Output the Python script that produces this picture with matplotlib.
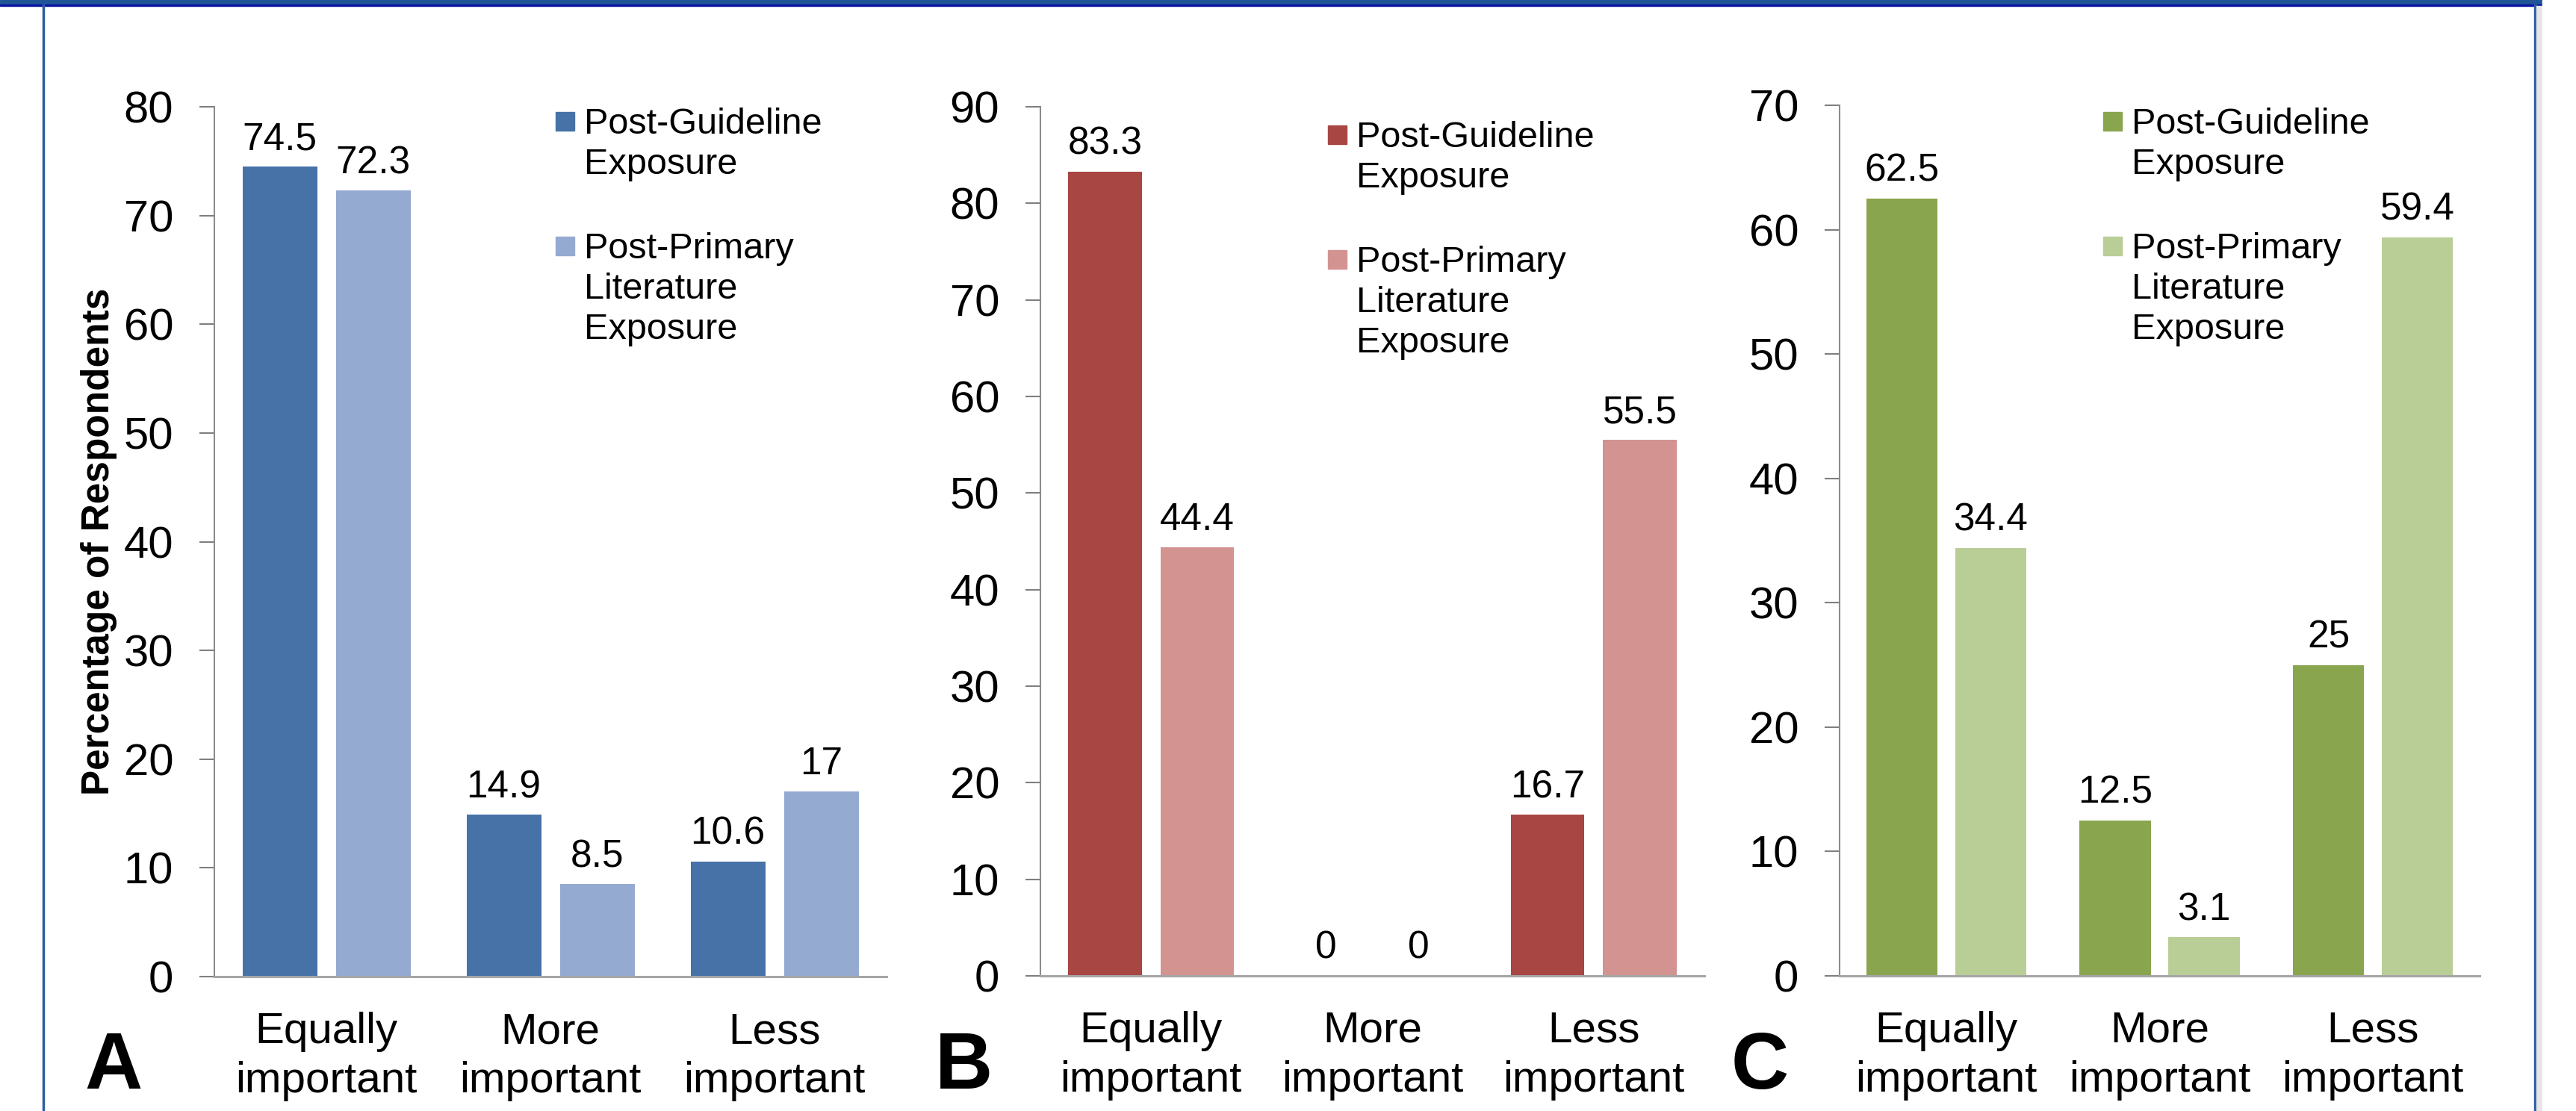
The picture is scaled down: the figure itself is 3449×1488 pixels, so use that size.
import matplotlib
matplotlib.use("Agg")
import matplotlib.pyplot as plt
import numpy as np
from matplotlib.patches import Rectangle

plt.rcParams["font.family"] = ["Liberation Sans", "DejaVu Sans"]

W, H = 3449, 1488  # canvas size in pixels (dpi 100)

categories = ["Equally\nimportant", "More\nimportant", "Less\nimportant"]
series_names = ["Post-Guideline\nExposure", "Post-Primary\nLiterature\nExposure"]

guideline_a = [74.5, 14.9, 10.6]
primary_a = [72.3, 8.5, 17]
guideline_b = [83.3, 0, 16.7]
primary_b = [44.4, 0, 55.5]
guideline_c = [62.5, 12.5, 25]
primary_c = [34.4, 3.1, 59.4]

y_max = [80, 90, 70]
letters = ["A", "B", "C"]
palettes = [("#4672A8", "#95AAD1"), ("#A84644", "#D39391"), ("#89A54E", "#B9CE96")]

# pixel boxes: left, top, right, bottom of each plot area
boxes = [(287, 143, 1187, 1308), (1393, 143, 2282, 1307), (2463, 141, 3320, 1307)]
# legend: square x, text x, first baseline
legend_pos = [(744, 782, 179), (1778, 1816, 197), (2816, 2854, 179)]
letter_x = [113, 1252, 2318]


def fx(x):
    return x / W


def fy(y):
    return 1 - y / H


fig = plt.figure(figsize=(W / 100, H / 100), dpi=100)
fig.patch.set_facecolor("white")

panels = [(guideline_a, primary_a), (guideline_b, primary_b), (guideline_c, primary_c)]
x = np.arange(len(categories))
bar_w = 1 / 3
off = bar_w / 2 + 1 / 24

axes = []
for k, (g, p) in enumerate(panels):
    l, t, r, b = boxes[k]
    ax = fig.add_axes([fx(l), fy(b), (r - l) / W, (b - t) / H])
    axes.append(ax)
    dark, light = palettes[k]
    ax.bar(x - off, g, width=bar_w, color=dark, zorder=2)
    ax.bar(x + off, p, width=bar_w, color=light, zorder=2)

    for xs, vals in ((x - off, g), (x + off, p)):
        for xi, v in zip(xs, vals):
            ax.annotate(f"{v:g}", (xi, v), xytext=(0, 23), textcoords="offset pixels",
                        ha="center", va="baseline", fontsize=37)

    for i, cat in enumerate(categories):
        for j, line in enumerate(cat.split("\n")):
            ax.annotate(line, (i, 0), xycoords=("data", "axes fraction"),
                        xytext=(0, -89 - 66 * j), textcoords="offset pixels",
                        ha="center", va="baseline", fontsize=42, annotation_clip=False)

    ax.set_xlim(-0.5, 2.5)
    ax.set_ylim(0, y_max[k])
    ax.set_yticks(range(0, y_max[k] + 1, 10))
    ax.set_xticks([])
    for side in ("top", "right"):
        ax.spines[side].set_visible(False)
    ax.spines["left"].set_color("#8C8C8C")
    ax.spines["left"].set_linewidth(1.5)
    ax.spines["bottom"].set_color("#A6A6A6")
    ax.spines["bottom"].set_linewidth(2.2)
    ax.spines["bottom"].set_zorder(3)
    ax.tick_params(axis="y", length=14.4, width=1.5, color="#7F7F7F", pad=25, labelsize=43)

    # legend drawn by hand so the swatch sits on the first text line
    sq_x, tx_x, base = legend_pos[k]
    for s, name in enumerate(series_names):
        y0 = base + 167 * s
        fig.patches.append(Rectangle((fx(sq_x), fy(y0 - 4)), 25 / W, 25 / H,
                                     transform=fig.transFigure, color=palettes[k][s]))
        for j, line in enumerate(name.split("\n")):
            fig.text(fx(tx_x), fy(y0 + 54 * j), line, fontsize=35, va="baseline", ha="left")

    fig.text(fx(letter_x[k]), fy(1458), letters[k], fontsize=77, fontweight="bold",
             va="baseline", ha="left")

axes[0].set_ylabel("Percentage of Respondents", fontsize=37, fontweight="bold", labelpad=6)

# slide frame: blue bar across the top, thin rules down both sides
fig.patches.append(Rectangle((0, fy(6)), 1, 6 / H, transform=fig.transFigure, color="#1F5597"))
fig.patches.append(Rectangle((0, fy(8)), 1, 2 / H, transform=fig.transFigure, color="#0A14A0"))
fig.patches.append(Rectangle((fx(57), 0), 2 / W, fy(6), transform=fig.transFigure, color="#2B5BA5"))
fig.patches.append(Rectangle((fx(3393), 0), 3 / W, fy(6), transform=fig.transFigure, color="#2B5BA5"))
fig.patches.append(Rectangle((fx(3396), 0), 8 / W, fy(8), transform=fig.transFigure, color="#E6E6E6"))
fig.patches.append(Rectangle((fx(3404), 0), 45 / W, 1, transform=fig.transFigure, color="white"))

fig.savefig("out.png", dpi=100)
